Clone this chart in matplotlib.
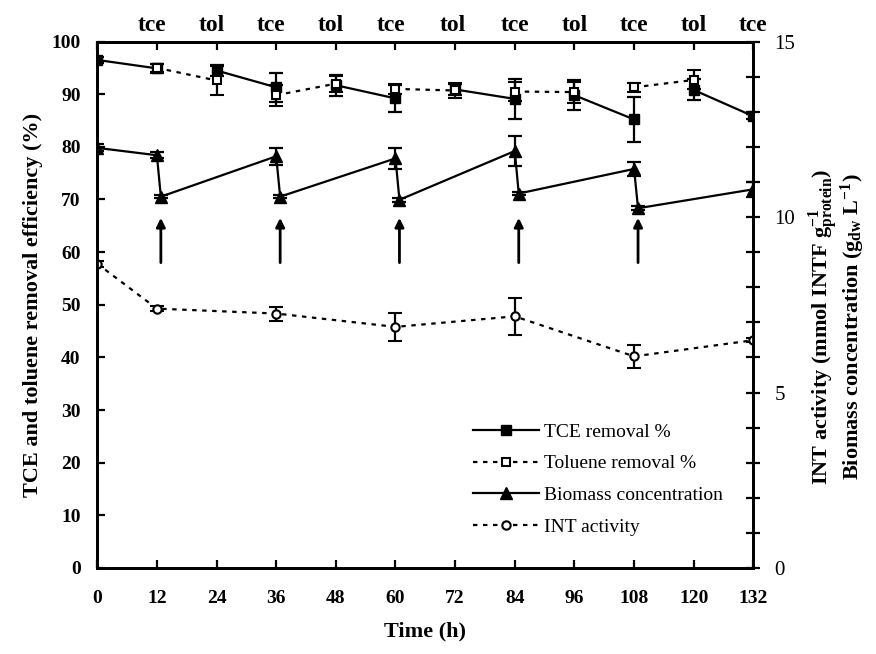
import matplotlib.pyplot as plt
from matplotlib.lines import Line2D

plt.rcParams['font.family'] = 'Liberation Serif'
plt.rcParams['mathtext.fontset'] = 'custom'
plt.rcParams['mathtext.rm'] = 'Liberation Serif:bold'
plt.rcParams['mathtext.default'] = 'rm'

# TCE removal (%), measured at every 12 h; solid line only over tce phases
tce_time = [0, 12, 24, 36, 48, 60, 72, 84, 96, 108, 120, 132]
tce_removal = [96.5, 94.9, 94.5, 91.3, 91.7, 89.2, 90.9, 89.1, 89.8, 85.2, 90.8, 85.8]
tce_err = [0.5, 0.8, 1.0, 2.8, 2.0, 2.5, 1.0, 3.8, 2.8, 4.3, 2.0, 0.5]

# toluene removal (%), dotted line over tol phases
tol_time = [12, 24, 36, 48, 60, 72, 84, 96, 108, 120]
tol_removal = [95.0, 92.6, 89.8, 92.0, 91.0, 90.7, 90.5, 90.4, 91.3, 92.7]
tol_err = [0.8, 2.8, 2.0, 1.5, 1.0, 1.5, 1.8, 2.0, 0.8, 1.8]

# biomass (g dw / L), right axis
bio_time = [0, 12, 12.8, 36, 36.8, 60, 60.8, 84, 84.8, 108, 108.8, 132]
biomass = [11.97, 11.76, 10.58, 11.73, 10.58, 11.67, 10.49, 11.88, 10.67, 11.37, 10.25, 10.79]
bio_err = [0.1, 0.08, 0.05, 0.25, 0.05, 0.3, 0.05, 0.42, 0.05, 0.2, 0.05, 0.22]

# INT activity (mmol INTF / g protein), right axis
int_time = [0, 12, 36, 60, 84, 108, 132]
int_act = [8.67, 7.39, 7.25, 6.87, 7.17, 6.03, 6.49]
int_err = [0.08, 0.08, 0.2, 0.4, 0.52, 0.32, 0.05]

# feeding arrows and phase labels
arrow_time = [12.8, 36.8, 60.8, 84.8, 108.8]
phase_labels = ['tce', 'tol', 'tce', 'tol', 'tce', 'tol', 'tce', 'tol', 'tce', 'tol', 'tce']
phase_pos = [11, 23, 35, 47, 59, 71.5, 84, 96, 108, 120, 132]

dotted = (0, (2, 2.5))

fig = plt.figure(figsize=(8.76, 6.54), dpi=100)
ax = fig.add_axes([0.111, 0.1315, 0.749, 0.805])
ax2 = ax.twinx()

# TCE removal: solid segments 0-12, 24-36, ...
for i in range(0, len(tce_time), 2):
    ax.plot(tce_time[i:i + 2], tce_removal[i:i + 2], color='k', lw=1.6)
ax.errorbar(tce_time, tce_removal, yerr=tce_err, fmt='s', color='k', ms=7,
            capsize=5, elinewidth=1.6, capthick=1.6, zorder=3)

# toluene removal: dotted segments 12-24, 36-48, ...
for i in range(0, len(tol_time), 2):
    ax.plot(tol_time[i:i + 2], tol_removal[i:i + 2], color='k', lw=1.6, ls=dotted)
ax.errorbar(tol_time, tol_removal, yerr=tol_err, fmt='s', color='k', mfc='white',
            ms=6, mew=1.5, capsize=5, elinewidth=1.6, capthick=1.6, zorder=3)

ax2.plot(bio_time, biomass, color='k', lw=1.6)
ax2.errorbar(bio_time, biomass, yerr=bio_err, fmt='^', color='k', ms=8,
             capsize=5, elinewidth=1.6, capthick=1.6)

ax2.plot(int_time, int_act, color='k', lw=1.6, ls=dotted)
ax2.errorbar(int_time, int_act, yerr=int_err, fmt='o', color='k', mfc='white',
             ms=6, mew=1.5, capsize=5, elinewidth=1.6, capthick=1.6)

for t in arrow_time:
    ax.annotate('', xy=(t, 66.5), xytext=(t, 58),
                arrowprops=dict(arrowstyle='-|>', color='k', lw=2,
                                mutation_scale=13, shrinkA=0, shrinkB=0))

for lab, t in zip(phase_labels, phase_pos):
    ax.text(t, 1.01, lab, transform=ax.get_xaxis_transform(), ha='center',
            va='bottom', fontsize=17, fontweight='bold')

ax.set_xlim(0, 132)
ax.set_ylim(0, 100)
ax2.set_ylim(0, 15)
ax.set_xticks(range(0, 133, 12))
ax.set_yticks(range(0, 101, 10))
ax2.set_yticks([0, 5, 10, 15])
ax2.set_yticks(range(0, 16), minor=True)

ax.tick_params(axis='both', direction='in', length=6, width=1.6, labelsize=14,
               top=True, right=False)
ax.tick_params(axis='x', pad=16)
ax.tick_params(axis='y', pad=12)
for lbl in ax.get_xticklabels() + ax.get_yticklabels():
    lbl.set_fontweight('bold')
ax2.tick_params(axis='y', which='both', direction='inout', length=10, width=1.6,
                labelsize=15, pad=10)
for a in (ax, ax2):
    for s in a.spines.values():
        s.set_linewidth(2)

ax.set_xlabel('Time (h)', fontsize=16, fontweight='bold', labelpad=10)
ax.set_ylabel('TCE and toluene removal efficiency (%)', fontsize=16,
              fontweight='bold', labelpad=6)
fig.text(0.94, 0.5, r'INT activity (mmol INTF g$^{-1}_{protein}$)', rotation=90,
         ha='center', va='center', fontsize=16, fontweight='bold')
fig.text(0.974, 0.5, r'Biomass concentration (g$_{dw}$ L$^{-1}$)', rotation=90,
         ha='center', va='center', fontsize=16, fontweight='bold')

handles = [
    Line2D([], [], color='k', lw=1.6, marker='s', ms=7),
    Line2D([], [], color='k', lw=1.6, ls=dotted, marker='s', mfc='white', ms=6, mew=1.5),
    Line2D([], [], color='k', lw=1.6, marker='^', ms=8),
    Line2D([], [], color='k', lw=1.6, ls=dotted, marker='o', mfc='white', ms=6, mew=1.5),
]
labels = ['TCE removal %', 'Toluene removal %', 'Biomass concentration', 'INT activity']
ax2.legend(handles, labels, loc='upper left', bbox_to_anchor=(0.573, 0.275),
           frameon=False, fontsize=14, handlelength=3.4, labelspacing=0.72,
           handletextpad=0.25, borderaxespad=0, borderpad=0)

fig.savefig('out.png', dpi=100)
